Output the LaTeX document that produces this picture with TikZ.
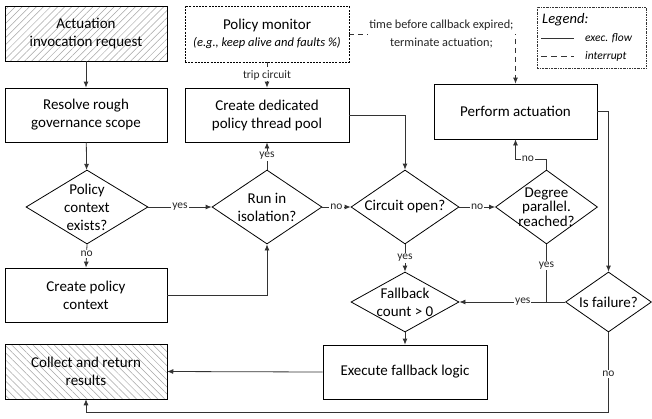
\documentclass[tikz,border=0pt]{standalone}
\usepackage{fontspec}
\setmainfont{Carlito}
\usetikzlibrary{shapes.geometric,arrows.meta,patterns,patterns.meta}
\begin{document}
\begin{tikzpicture}[x=1pt,y=-1pt,
  box/.style={draw=black,line width=0.8pt,rectangle,align=center,inner sep=0pt,font=\fontsize{15}{18}\selectfont},
  hatchne/.style={pattern={Lines[angle=45,distance=5pt,line width=0.5pt]},pattern color=black!35},
  hatchnw/.style={pattern={Lines[angle=-45,distance=5pt,line width=0.5pt]},pattern color=black!35},
  dia/.style={draw=black,line width=0.8pt,diamond,inner sep=0pt},
  dtxt/.style={align=center,inner sep=0pt,font=\fontsize{15}{18}\selectfont},
  flow/.style={draw=black!80,line width=0.8pt,-{Latex[length=6pt,width=5pt]}},
  intr/.style={draw=black!80,line width=0.8pt,dash pattern=on 5pt off 4pt,-{Latex[length=6pt,width=5pt]}},
  lbl/.style={fill=white,inner sep=1pt,font=\fontsize{11.5}{13}\selectfont,text=black!85}]
\useasboundingbox (0,0) rectangle (652,418);
\fill[white] (0,0) rectangle (652,418);

% boxes
\node[box,hatchne,minimum width=162pt,minimum height=55pt] (act) at (86,33.5) {Actuation\\invocation request};
\node[box,minimum width=162pt,minimum height=54pt] (res) at (86,115) {Resolve rough\\governance scope};
\node[box,dashed,dash pattern=on 2pt off 1.2pt,minimum width=164pt,minimum height=56pt] (pmon) at (267,34)
  {Policy monitor\\[-1pt]{\fontsize{12.5}{14}\selectfont\itshape (e.g., keep alive and faults \%)}};
\node[box,minimum width=164pt,minimum height=54pt] (pool) at (267,115) {Create dedicated\\policy thread pool};
\node[box,minimum width=163pt,minimum height=55pt] (perf) at (515.5,111.5) {Perform actuation};
\node[box,minimum width=162pt,minimum height=54pt] (cpc) at (86,295) {Create policy\\context};
\node[box,hatchnw,minimum width=162pt,minimum height=55pt] (col) at (86,371.5) {Collect and return\\results};
\node[box,minimum width=164pt,minimum height=54pt] (exe) at (405,372) {Execute fallback logic};

% diamonds
\node[dia,minimum width=122pt,minimum height=74pt] (ctx) at (87,207) {};
\node[dtxt] (ctxt) at (ctx.center) {Policy\\context\\exists?};
\node[dia,minimum width=110pt,minimum height=74pt] (iso) at (267,207) {};
\node[dtxt] (isot) at (iso.center) {Run in\\isolation?};
\node[dia,minimum width=108pt,minimum height=74pt] (circ) at (405,207) {};
\node[dtxt] (circt) at (circ.center) {Circuit open?};
\node[dia,minimum width=102pt,minimum height=74pt] (deg) at (546.5,207) {};
\node[dtxt,font=\fontsize{15}{14.5}\selectfont] (degt) at (deg.center) {Degree\\parallel.\\reached?};
\node[dia,minimum width=108pt,minimum height=60pt] (fb) at (405,302) {};
\node[dtxt] (fbt) at (fb.center) {Fallback\\count > 0};
\node[dia,minimum width=86pt,minimum height=60pt] (fail) at (608.5,302) {};
\node[dtxt] (failt) at (fail.center) {Is failure?};

% legend
\node[draw=black!80,line width=0.6pt,dash pattern=on 2pt off 1pt on 0.6pt off 1pt,minimum width=109pt,minimum height=61pt,inner sep=0pt] (leg) at (591.5,37.5) {};
\node[anchor=west,inner sep=0pt,font=\fontsize{14.5}{16}\selectfont\itshape] (legt) at (542,20) {Legend:};
\coordinate (l1a) at (541,38); \coordinate (l1b) at (574,38);
\coordinate (l2a) at (541,56); \coordinate (l2b) at (574,56);
\draw[draw=black!80,line width=0.8pt] (l1a) -- (l1b);
\draw[draw=black!80,line width=0.8pt,dash pattern=on 6pt off 4pt] (l2a) -- (l2b);
\node[anchor=west,inner sep=0pt,font=\fontsize{11.5}{14}\selectfont\itshape] (lege) at (585,38) {exec. flow};
\node[anchor=west,inner sep=0pt,font=\fontsize{11.5}{14}\selectfont\itshape] (legi) at (585,56) {interrupt};

% connectors
\draw[flow] (act) -- (res);
\draw[flow] (res) -- (ctx);
\draw[flow] (ctx.east) -- node[lbl]{yes} (iso.west);
\draw[flow] (ctx.south) -- node[lbl,pos=0.4]{no} (cpc.north);
\draw[flow] (cpc.east) -| (iso.south);
\draw[flow] (iso.north) -- node[lbl]{yes} (pool.south);
\draw[flow] (iso.east) -- node[lbl]{no} (circ.west);
\draw[flow] (pool.east) -| (circ.north);
\draw[flow] (circ.east) -- node[lbl]{no} (deg.west);
\draw[flow] (circ.south) -- node[lbl]{yes} (fb.north);
\coordinate (dn) at (546.5,159);
\draw[flow] (deg.north) -- (dn) -| node[lbl,pos=0.3]{no} (perf.south);
\coordinate (j) at (deg.south |- fail.west);
\draw[draw=black!80,line width=0.8pt] (deg.south) -- node[lbl,pos=0.37]{yes} (j);
\draw[flow] (fail.west) -- node[lbl,pos=0.4]{yes} (fb.east);
\draw[flow] (perf.east) -| (fail.north);
\coordinate (bot) at (0,412);
\draw[flow] (fail.south) -- node[lbl,pos=0.52]{no} (fail.south |- bot) -| (col.south);
\draw[flow] (fb.south) -- (exe.north);
\draw[flow] (exe.west) -- (col.east);
\draw[intr] (pmon.south) -- node[lbl]{trip circuit} (pool.north);
\draw[intr] (pmon.east) -| node[lbl,pos=0.277,align=center,font=\fontsize{12.3}{18}\selectfont]{time before callback expired;\\terminate actuation;} (perf.north);
\end{tikzpicture}
\end{document}
